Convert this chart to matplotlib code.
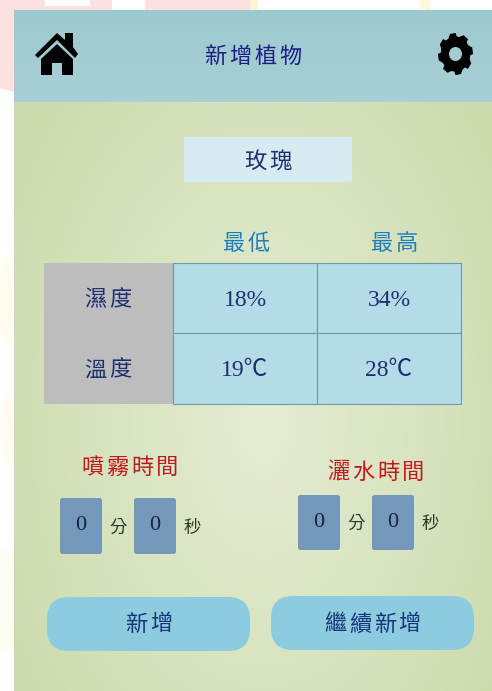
import matplotlib
matplotlib.use("Agg")
import matplotlib.pyplot as plt
import numpy as np
from matplotlib.patches import Ellipse, FancyBboxPatch, Polygon, Rectangle

plt.rcParams["font.family"] = ["Noto Sans CJK TC", "DejaVu Sans"]

TITLE = "新增植物"
PLANT = "玫瑰"
COLUMNS = ["最低", "最高"]
ROWS = ["濕度", "溫度"]
HUMIDITY = ["18%", "34%"]
TEMPERATURE = ["19℃", "28℃"]
TIMERS = ["噴霧時間", "灑水時間"]
TIMER_MIN = ["0", "0"]
TIMER_SEC = ["0", "0"]
BUTTONS = ["新增", "繼續新增"]

W, H = 492, 691
NAVY = "#1c2f6e"
RED = "#c2181f"
SERIF = ["Liberation Serif", "Noto Sans CJK TC"]


def add_label(ax, x, y, s, size=16, color=NAVY, spacing=25.0):
    # the original font is set loose, so place each character
    n = len(s)
    for i, ch in enumerate(s):
        ax.text(x + (i - (n - 1) / 2) * spacing, y + 1.5, ch, fontsize=size, color=color,
                ha="center", va="center", weight="medium")


def round_box(ax, x0, y0, x1, y1, r, color, **kw):
    ax.add_patch(FancyBboxPatch((x0 + r, y0 + r), x1 - x0 - 2 * r, y1 - y0 - 2 * r,
                                boxstyle=f"round,pad={r},rounding_size={r}",
                                fc=color, ec="none", **kw))


fig = plt.figure(figsize=(W / 100, H / 100), dpi=100)
ax = fig.add_axes([0, 0, 1, 1])
ax.axis("off")

# faint watermark behind the screenshot
ax.add_patch(Rectangle((0, 0), W, H, fc="white", ec="none", zorder=0))
ax.add_patch(Polygon([[0, 0], [250, 0], [250, 10], [14, 10], [14, 92], [0, 88]], fc="#fde0e0", ec="none", zorder=0.1))
ax.add_patch(Rectangle((45, 0), 45, 6, fc="white", ec="none", zorder=0.2))
ax.add_patch(Rectangle((112, 0), 33, 10, fc="white", ec="none", zorder=0.2))
ax.add_patch(Rectangle((250, 0), 8, 10, fc="#fff3d6", ec="none", zorder=0.1))
ax.add_patch(Rectangle((420, 0), 10, 10, fc="#fff6df", ec="none", zorder=0.1))
ax.add_patch(Ellipse((6, 300), 14, 90, fc="#fffbee", ec="none", zorder=0.1))
ax.add_patch(Ellipse((7, 430), 12, 70, fc="#fffbee", ec="none", zorder=0.1))
ax.add_patch(Rectangle((0, 550), 14, 100, fc="#fffcf2", ec="none", zorder=0.1))

# panel background, pale in the middle and greener to the edges
yy, xx = np.mgrid[102:691, 14:492]
d = np.sqrt(((xx - 262) / 290.0) ** 2 + ((yy - 420) / 470.0) ** 2)
d = np.clip(d, 0, 1)[..., None]
inner = np.array([0.90, 0.93, 0.83])
outer = np.array([0.80, 0.86, 0.68])
ax.imshow(inner * (1 - d) + outer * d, extent=(14, 492, 691, 102), aspect="auto", zorder=1)

# header
grad = np.linspace(0, 1, 92)[:, None, None]
head = np.array([0.61, 0.79, 0.81]) * (1 - grad) + np.array([0.66, 0.81, 0.84]) * grad
ax.imshow(head, extent=(14, 492, 102, 10), aspect="auto", zorder=2)
ax.set_xlim(0, W)
ax.set_ylim(H, 0)
add_label(ax, 253, 55, TITLE, color="#1b2080")

# home icon
ax.add_patch(Polygon([[35, 55], [57, 33], [65, 40], [65, 33], [73, 33], [73, 47], [78, 54],
                      [75, 58], [57, 40], [38, 58]], fc="black", ec="none", zorder=3))
ax.add_patch(Polygon([[41, 59], [57, 44], [73, 59], [73, 75], [62, 75], [62, 63], [52, 63],
                      [52, 75], [41, 75]], fc="black", ec="none", zorder=3))

# gear icon
teeth = 8
ang = np.linspace(0, 2 * np.pi, teeth * 4, endpoint=False) - np.pi / 2 - np.pi / 10
ang = ang + np.tile([0.0, 0.12, 0.0, 0.0], teeth)
rad = np.tile([18.5, 18.5, 15.5, 15.5], teeth)
ax.add_patch(Polygon(np.c_[455.5 + 0.95 * rad * np.cos(ang), 54 + 1.14 * rad * np.sin(ang)],
                     fc="black", ec="none", zorder=3))
ax.add_patch(Ellipse((455.5, 54), 13, 14, fc="#a3cbd0", ec="none", zorder=4))

# plant name box
ax.add_patch(Rectangle((184, 137), 168, 45, fc="#d7eaf2", ec="none", zorder=2))
add_label(ax, 268, 160, PLANT)

# table
col_x = [173, 317, 461]
row_y = [263, 333, 404]
ax.add_patch(Rectangle((44, 263), 129, 141, fc="#bdbdbd", ec="none", zorder=2))
for r, vals in enumerate([HUMIDITY, TEMPERATURE]):
    mid = (row_y[r] + row_y[r + 1]) / 2
    add_label(ax, 108, mid, ROWS[r])
    for c, val in enumerate(vals):
        ax.add_patch(Rectangle((col_x[c], row_y[r]), col_x[c + 1] - col_x[c], row_y[r + 1] - row_y[r],
                               fc="#b6dbe8", ec="#6f9aa5", lw=0.8, zorder=2))
        ax.text(col_x[c] + 72, mid + 2, val, fontsize=17, color=NAVY,
                ha="center", va="center", family=SERIF)
header_x = [246, 394]
for c, name in enumerate(COLUMNS):
    add_label(ax, header_x[c], 242, name, color="#1a7fbf")

# timers
label_x = [130, 375.5]
label_y = [466, 471]
box_y = [498, 495]
box_b = [554, 550]
box_x = [(60, 134), (298, 372)]
unit_x = [(118, 192), (356, 430)]
for t, name in enumerate(TIMERS):
    add_label(ax, label_x[t], label_y[t], name, color=RED)
    mid = (box_y[t] + box_b[t]) / 2
    for i, val in enumerate([TIMER_MIN[t], TIMER_SEC[t]]):
        x0 = box_x[t][i]
        round_box(ax, x0, box_y[t], x0 + 42, box_b[t], 2.5, "#7398bc", zorder=2)
        ax.text(x0 + 21, mid, val, fontsize=16, color="#16233f", ha="center", va="center",
                family=SERIF)
        ax.text(unit_x[t][i], mid + 1.5, "分秒"[i], fontsize=12.5, color="#2a3a2a", ha="center", va="center")

# bottom buttons
btn_x = [(47, 250), (271, 474)]
btn_y = [(597, 651), (596, 650)]
for b, name in enumerate(BUTTONS):
    x0, x1 = btn_x[b]
    y0, y1 = btn_y[b]
    round_box(ax, x0, y0, x1, y1, 22, "#8dcbdf", zorder=2)
    add_label(ax, (x0 + x1) / 2, 622.5, name, color="#17367a", spacing=24.5)

for t in ax.texts:
    t.set_zorder(5)

fig.savefig("out.png", dpi=100)
